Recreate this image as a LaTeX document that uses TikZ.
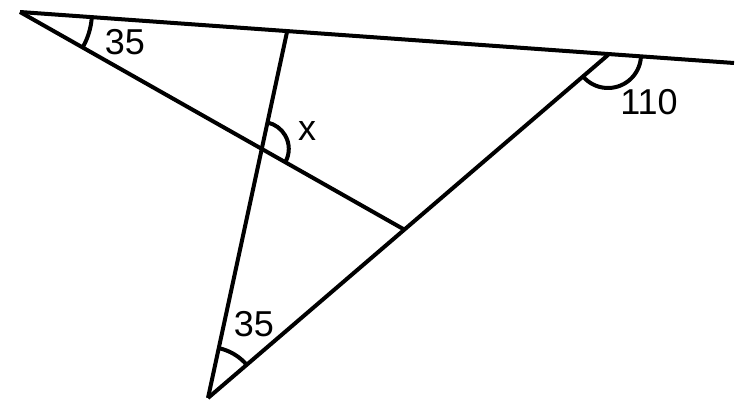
\documentclass[tikz,border=0pt]{standalone}
\usepackage{fontspec}
\setmainfont{Liberation Sans}
\usetikzlibrary{angles, calc}

\begin{document}
\begin{tikzpicture}[
    x=1pt, y=-1pt,
    line/.style={draw, line width=4pt},
    arc/.style={draw, line width=4pt},
    lbl/.style={inner sep=0pt, font=\fontsize{36}{40}\selectfont}
]
    \useasboundingbox (0,0) rectangle (746,411);

    \coordinate (A) at (20,12);
    \coordinate (R) at (734,63);
    \coordinate (Q) at (608,55);
    \coordinate (P) at (287,32);
    \coordinate (B) at (208,398);
    \coordinate (D) at (405,230);
    \coordinate (I) at (intersection of A--D and B--P);

    \draw[line] (A) -- (R);
    \draw[line] (A) -- (D);
    \draw[line] (B) -- (P);
    \draw[line] (B) -- (Q);

    % Angle marks
    \pic[arc, angle radius=72pt] {angle=D--A--R};
    \pic[arc, angle radius=27pt] {angle=D--I--P};
    \pic[arc, angle radius=33pt] {angle=B--Q--R};
    \pic[arc, angle radius=51pt] {angle=Q--B--P};

    \node[lbl] (a1) at (125,42) {35};
    \node[lbl] (ax) at (307,131) {x};
    \node[lbl] (a2) at (649,102) {110};
    \node[lbl] (a3) at (254,324) {35};
\end{tikzpicture}
\end{document}
